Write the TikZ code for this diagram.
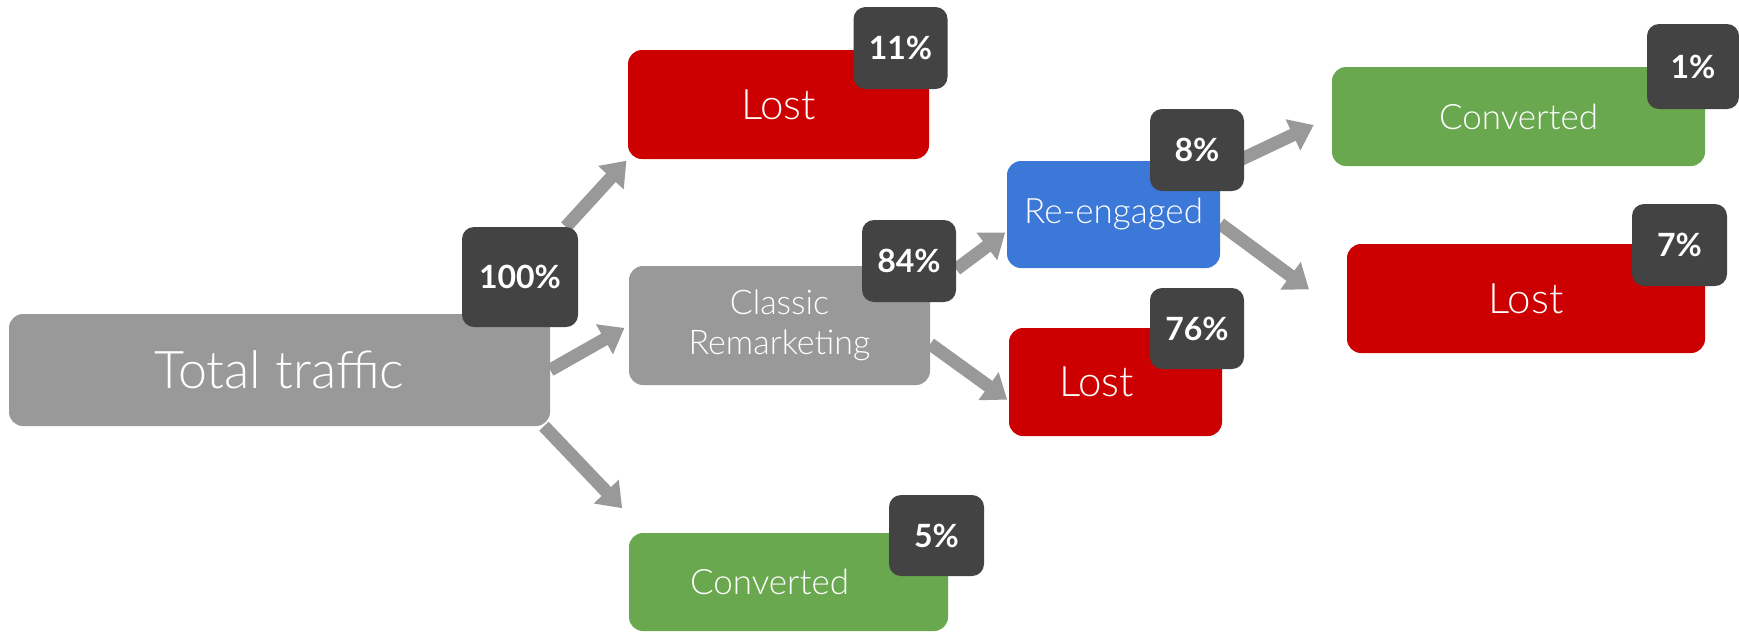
\documentclass[tikz,border=0pt]{standalone}
\usepackage{fontspec}
\setmainfont{Lato}
\newfontfamily\thinfont{Lato Light}
\usetikzlibrary{arrows.meta}
\definecolor{lostred}{HTML}{CC0000}
\definecolor{basegray}{HTML}{999999}
\definecolor{taggray}{HTML}{434343}
\definecolor{engblue}{HTML}{3C78D8}
\definecolor{convgreen}{HTML}{6AA84F}
\newcommand{\fs}[1]{\thinfont\fontsize{#1}{#1}\selectfont}
\pgfdeclarelayer{back}
\pgfsetlayers{back,main}
\tikzset{
  box/.style={fill=#1, text=white, rounded corners=14pt, inner sep=0pt},
  tag/.style={fill=taggray, text=white, rounded corners=12pt, minimum width=94pt, minimum height=82pt, inner sep=0pt, font=\fontsize{32}{32}\selectfont\bfseries},
  flow/.style={draw=basegray, line width=13pt, -{Triangle[width=33pt,length=23pt]}}
}
\begin{document}
\begin{tikzpicture}[x=1pt,y=-1pt]
\useasboundingbox (0,0) rectangle (1739,633);
\node[box=basegray,minimum width=541pt,minimum height=112pt,font=\fs{52}] (total) at (279.5,370) {Total traffic};
\node[tag,minimum width=116pt,minimum height=100pt] (b100) at (520,277) {100\%};

\node[box=lostred,minimum width=301pt,minimum height=109pt,font=\fs{42}] (lostA) at (778.5,104.5) {Lost};
\node[tag] (b11) at (900.5,48) {11\%};
\node[box=basegray,minimum width=301pt,minimum height=119pt,align=center,font=\thinfont\fontsize{34}{40}\selectfont] (classic) at (779.5,325.5) {Classic\\Remarketing};
\node[tag] (b84) at (909,261) {84\%};
\node[box=convgreen,minimum width=319pt,minimum height=98pt,font=\fs{35}] (convA) at (788.5,582) {Converted\hspace*{38pt}};
\node[tag,minimum width=95pt,minimum height=81pt] (b5) at (936.5,535.5) {5\%};

\node[box=engblue,minimum width=213pt,minimum height=107pt,font=\fs{35}] (reeng) at (1113.5,214.5) {Re-engaged};
\node[tag] (b8) at (1197,150) {8\%};
\node[box=lostred,minimum width=213pt,minimum height=108pt,font=\fs{42}] (lostB) at (1115.5,382) {Lost\hspace*{38pt}};
\node[tag,minimum height=81pt] (b76) at (1197,328.5) {76\%};

\node[box=convgreen,minimum width=373pt,minimum height=99pt,font=\fs{35}] (convB) at (1518.5,116.5) {Converted};
\node[tag,minimum width=92pt,minimum height=85pt] (b1) at (1693,66.5) {1\%};
\node[box=lostred,minimum width=358pt,minimum height=109pt,font=\fs{42}] (lostC) at (1526,298.5) {Lost};
\node[tag,minimum width=95pt] (b7) at (1679.5,245) {7\%};

\begin{pgfonlayer}{back}
\draw[flow,shorten >=2pt] (b100) -- (lostA.south west);
\draw[flow,shorten >=5pt] (total.east) -- (classic.west);
\draw[flow,shorten >=34pt] (total.-12) -- (convA.161);
\draw[flow,shorten >=2pt] (b84.-10) -- (reeng.189);
\draw[flow,shorten >=2pt] (classic.-7) -- (lostB.190);
\draw[flow,shorten >=20pt] (reeng.23) -- (convB.west);
\draw[flow,shorten >=47pt] (reeng.-5) -- (lostC.186);
\end{pgfonlayer}
\end{tikzpicture}
\end{document}
